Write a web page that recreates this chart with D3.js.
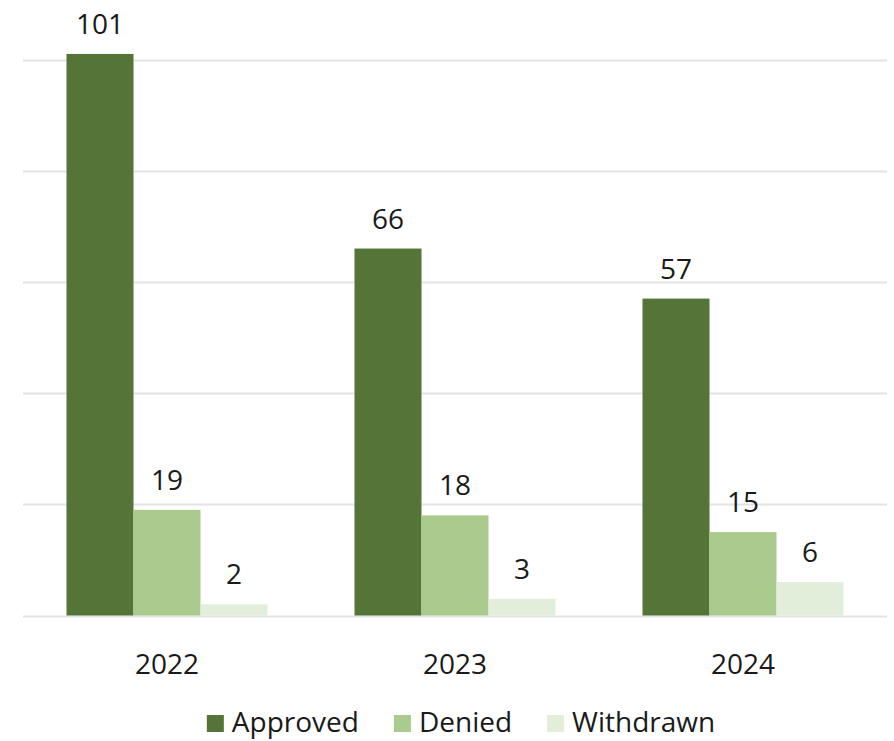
<!DOCTYPE html>
<html>
<head>
<meta charset="utf-8">
<script src="https://cdn.jsdelivr.net/npm/d3@7"></script>
<style>
  html, body { margin: 0; padding: 0; background: #fff; }
  svg { display: block; font-family: "Open Sans", "Noto Sans", sans-serif; }
</style>
</head>
<body>
<svg id="chart" width="894" height="741"></svg>
<script>
// Application outcomes per year
const years = ["2022", "2023", "2024"];
const seriesNames = ["Approved", "Denied", "Withdrawn"];
const approved = [101, 66, 57];
const denied = [19, 18, 15];
const withdrawn = [2, 3, 6];
const gridTicks = [0, 20, 40, 60, 80, 100];
const colors = ["#557538", "#AACA8E", "#E2EDDA"];

const seriesValues = [approved, denied, withdrawn];
const rows = years.map((yr, i) => ({
  year: yr,
  values: seriesNames.map((s, j) => ({ key: s, value: seriesValues[j][i], color: colors[j] }))
}));

const svg = d3.select("#chart");
const plotLeft = 23, plotRight = 887, plotTop = 59.5, plotBottom = 615.5;

const x0 = d3.scaleBand().domain(years).range([plotLeft, plotRight]).paddingInner(0.302).paddingOuter(0.151);
const x1 = d3.scaleBand().domain(seriesNames).range([0, x0.bandwidth()]).padding(0);
const y = d3.scaleLinear().domain([0, 100]).range([plotBottom, plotTop]);

// Horizontal gridlines
svg.append("g").selectAll("line").data(gridTicks).join("line")
  .attr("x1", plotLeft).attr("x2", plotRight)
  .attr("y1", d => Math.round(y(d)) + 0.5).attr("y2", d => Math.round(y(d)) + 0.5)
  .attr("stroke", "#e3e3e3").attr("stroke-width", 2);

// Bars
const groups = svg.append("g").selectAll("g").data(rows).join("g")
  .attr("transform", d => `translate(${x0(d.year)},0)`);

groups.selectAll("rect").data(d => d.values).join("rect")
  .attr("x", d => x1(d.key))
  .attr("width", x1.bandwidth())
  .attr("y", d => y(d.value))
  .attr("height", d => y(0) - y(d.value))
  .attr("fill", d => d.color);

// Value labels
groups.selectAll("text").data(d => d.values).join("text")
  .attr("x", d => x1(d.key) + x1.bandwidth() / 2)
  .attr("y", d => y(d.value) - 20)
  .attr("text-anchor", "middle")
  .attr("font-size", 28)
  .attr("fill", "#1a1a1a")
  .text(d => d.value);

// Category axis labels
svg.append("g").selectAll("text").data(years).join("text")
  .attr("x", d => x0(d) + x0.bandwidth() / 2)
  .attr("y", 674)
  .attr("text-anchor", "middle")
  .attr("font-size", 28)
  .attr("fill", "#1a1a1a")
  .text(d => d);

// Legend
const legend = svg.append("g");
const items = legend.selectAll("g").data(seriesNames).join("g");
items.append("rect")
  .attr("width", 17).attr("height", 17).attr("y", 715)
  .attr("fill", (d, i) => colors[i]);
items.append("text")
  .attr("x", 25).attr("y", 732)
  .attr("font-size", 28)
  .attr("fill", "#1a1a1a")
  .text(d => d);

let cursor = 0;
const offsets = [];
items.each(function () {
  offsets.push(cursor);
  const w = d3.select(this).select("text").node().getComputedTextLength();
  cursor += 25 + w + 35;
});
const total = cursor - 35;
const start = 461 - total / 2;
items.attr("transform", (d, i) => `translate(${start + offsets[i]},0)`);
</script>
</body>
</html>
